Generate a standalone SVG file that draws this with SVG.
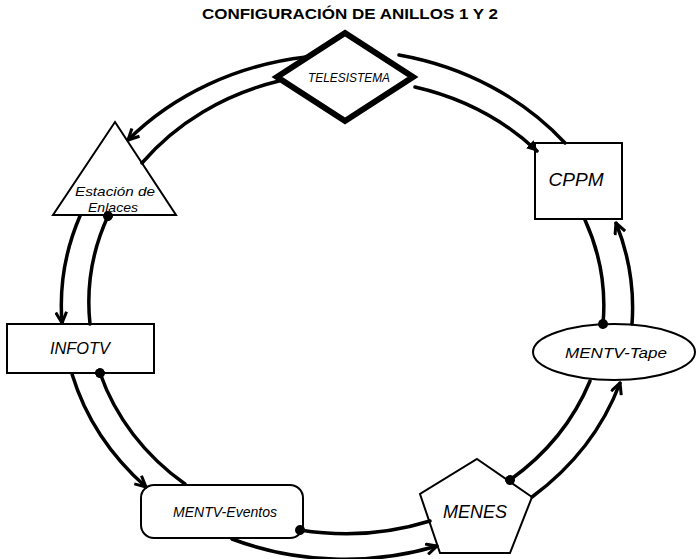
<svg xmlns="http://www.w3.org/2000/svg" width="697" height="559" viewBox="0 0 697 559">
<style>
.t{font-family:"Liberation Sans",Arial,sans-serif;font-style:italic;fill:#000}
.n{fill:#fff;stroke:#000;stroke-width:2}
.c{fill:none;stroke:#000;stroke-width:3.5;stroke-linecap:round}
.ah{marker-end:url(#arr)}
.dt{marker-end:url(#dot)}
.fa{marker-end:url(#farr)}
</style>
<defs>
<marker id="arr" viewBox="0 0 12 12" refX="11" refY="6" markerWidth="13" markerHeight="13" markerUnits="userSpaceOnUse" orient="auto">
<path d="M1,1 L11,6 L1,11" fill="none" stroke="#000" stroke-width="2.8" stroke-linejoin="miter"/>
</marker>
<marker id="farr" viewBox="0 0 10 10" refX="9" refY="5" markerWidth="11" markerHeight="11" markerUnits="userSpaceOnUse" orient="auto">
<path d="M0,0 L10,5 L0,10 z" fill="#000"/>
</marker>
<marker id="dot" viewBox="0 0 10 10" refX="5" refY="5" markerWidth="10" markerHeight="10" markerUnits="userSpaceOnUse" orient="auto">
<circle cx="5" cy="5" r="5" fill="#000"/>
</marker>
</defs>
<rect width="697" height="559" fill="#fff"/>
<text x="350" y="19" text-anchor="middle" font-family="Liberation Sans,Arial,sans-serif" font-weight="bold" font-size="14" textLength="296" lengthAdjust="spacingAndGlyphs">CONFIGURACIÓN DE ANILLOS 1 Y 2</text>
<g id="telesistema">
<polygon points="345,33 413,77 345,121 277,77" fill="#fff" stroke="#000" stroke-width="6" stroke-linejoin="miter"/>
<text class="t" x="349" y="82" text-anchor="middle" font-size="12" textLength="82" lengthAdjust="spacingAndGlyphs">TELESISTEMA</text>
</g>
<g id="estacion">
<polygon class="n" points="115,122 176,215 53,215"/>
<text class="t" x="115" y="196" text-anchor="middle" font-size="13" textLength="80" lengthAdjust="spacingAndGlyphs">Estación de</text>
<text class="t" x="113" y="212" text-anchor="middle" font-size="13" textLength="50" lengthAdjust="spacingAndGlyphs">Enlaces</text>
</g>
<g id="cppm">
<rect class="n" x="535" y="143" width="87" height="76"/>
<text class="t" x="576" y="186" text-anchor="middle" font-size="18" textLength="55" lengthAdjust="spacingAndGlyphs">CPPM</text>
</g>
<g id="infotv">
<rect class="n" x="7" y="324" width="147" height="49"/>
<text class="t" x="80" y="354" text-anchor="middle" font-size="16" textLength="60" lengthAdjust="spacingAndGlyphs">INFOTV</text>
</g>
<g id="mentv-tape">
<ellipse class="n" cx="614" cy="352" rx="81" ry="28"/>
<text class="t" x="616" y="358" text-anchor="middle" font-size="15" textLength="102" lengthAdjust="spacingAndGlyphs">MENTV-Tape</text>
</g>
<g id="menes">
<polygon class="n" points="477,459 532,497 510,553 440,553 420,494"/>
<text class="t" x="475" y="518" text-anchor="middle" font-size="19" textLength="64" lengthAdjust="spacingAndGlyphs">MENES</text>
</g>
<g id="mentv-eventos">
<rect class="n" x="141" y="485" width="162" height="53" rx="13"/>
<text class="t" x="225" y="517" text-anchor="middle" font-size="15" textLength="104" lengthAdjust="spacingAndGlyphs">MENTV-Eventos</text>
</g>
<g id="connectors">
<path class="c ah" d="M306,57 A288,253 0 0,0 128,140"/>
<path class="c" d="M142,163 A256,228 0 0,1 279,81"/>
<path class="c" d="M399,55 A288,253 0 0,1 565,143"/>
<path class="c fa" d="M415,87 A256,228 0 0,1 537,151"/>
<path class="c dt" d="M585,220 A256,228 0 0,1 603,324"/>
<path class="c ah" d="M632,324 A288,253 0 0,0 616,223"/>
<path class="c dt" d="M590,381 A256,228 0 0,1 510,480"/>
<path class="c ah" d="M532,497 A288,253 0 0,0 620,383"/>
<path class="c dt" d="M430,521 A256,228 0 0,1 300,530"/>
<path class="c ah" d="M232,539 A288,253 0 0,0 437,546"/>
<path class="c ah" d="M72,374 A288,253 0 0,0 146,487"/>
<path class="c dt" d="M185,484 A256,228 0 0,1 100,373"/>
<path class="c ah" d="M80,216 A288,253 0 0,0 62,323"/>
<path class="c dt" d="M90,324 A256,228 0 0,1 108,216"/>
</g>
</svg>
